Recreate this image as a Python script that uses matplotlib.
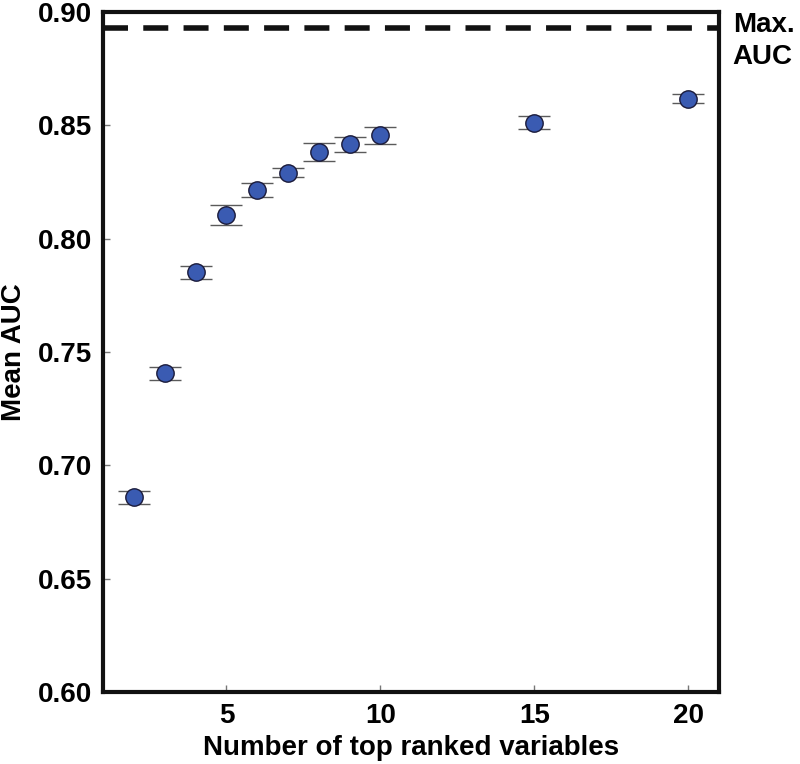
import matplotlib
matplotlib.use("Agg")
import matplotlib.pyplot as plt
from matplotlib.transforms import offset_copy

n_vars = [2, 3, 4, 5, 6, 7, 8, 9, 10, 15, 20]
mean_auc = [0.6859, 0.7407, 0.7851, 0.8104, 0.8213, 0.8292, 0.8383, 0.8416, 0.8456, 0.8512, 0.8618]
auc_err = [0.0030, 0.0029, 0.0030, 0.0043, 0.0031, 0.0020, 0.0040, 0.0035, 0.0037, 0.0030, 0.0020]
max_auc = 0.8928
x_ticks = [5, 10, 15, 20]
y_ticks = [0.60, 0.65, 0.70, 0.75, 0.80, 0.85, 0.90]

plt.rcParams['font.family'] = ['Liberation Sans', 'DejaVu Sans']
plt.rcParams['font.weight'] = 'bold'

fig = plt.figure(figsize=(8, 7.64), dpi=100)
ax = fig.add_axes([0.129, 0.0942, 0.770, 0.890])

ax.errorbar(n_vars, mean_auc, yerr=auc_err, fmt='o', color='#4a4a4a',
            ecolor='#5a5a5a', elinewidth=1.0, capsize=11.5, capthick=1.0,
            markersize=12.5, markerfacecolor='#3A5BB2', markeredgecolor='#1a1a3a',
            markeredgewidth=1.0, zorder=3)

lw = 4.0
ax.axhline(max_auc, color='#111111', linewidth=lw, linestyle=(0, (18 / lw, 11 / lw)), zorder=2)

ax.set_xlim(1, 21)
ax.set_ylim(0.60, 0.90)
ax.set_xticks(x_ticks)
ax.set_yticks(y_ticks)
ax.set_yticklabels([f"{v:.2f}" for v in y_ticks])
ax.tick_params(direction='in', length=5, width=1, color='#777777', labelsize=20, pad=8)
for lab in ax.get_xticklabels() + ax.get_yticklabels():
    lab.set_fontweight('bold')
for s in ax.spines.values():
    s.set_linewidth(3.0)
    s.set_color('#111111')

ax.set_xlabel('Number of top ranked variables', fontsize=20, fontweight='bold', labelpad=4)
ax.set_ylabel('Mean AUC', fontsize=20, fontweight='bold', labelpad=8)

tr = offset_copy(ax.get_yaxis_transform(), fig=fig, x=0, y=-9, units='points')
ax.text(1.022, max_auc, 'Max.\nAUC', transform=tr, ha='left', va='center',
        fontsize=20, fontweight='bold', linespacing=1.3)

fig.savefig('out.png', dpi=100)
